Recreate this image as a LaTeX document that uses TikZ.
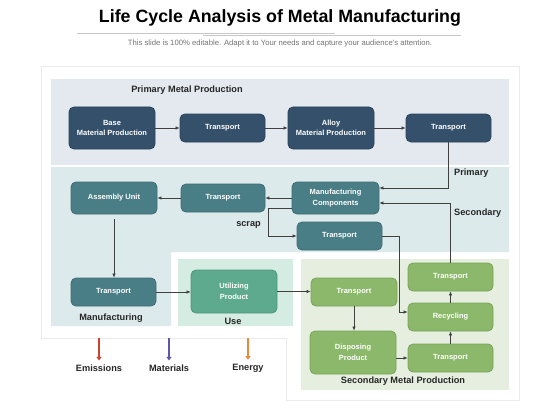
\documentclass[tikz,border=0pt]{standalone}
\usepackage{fontspec}
\setmainfont{Liberation Sans}
\usetikzlibrary{arrows.meta,calc}
\definecolor{navy}{HTML}{34506A}
\definecolor{navyb}{HTML}{2A4257}
\definecolor{teal}{HTML}{4A7E86}
\definecolor{tealb}{HTML}{3D6C73}
\definecolor{usec}{HTML}{5DAA8E}
\definecolor{useb}{HTML}{4E977C}
\definecolor{grn}{HTML}{8BB86A}
\definecolor{grnb}{HTML}{78A35A}
\definecolor{bgprim}{HTML}{E3E9EF}
\definecolor{bgmfg}{HTML}{DDEAEC}
\definecolor{bguse}{HTML}{D5ECE3}
\definecolor{bgsec}{HTML}{E6EFDF}
\definecolor{linec}{HTML}{404040}
\definecolor{emis}{HTML}{D0412E}
\definecolor{matc}{HTML}{5B57A6}
\definecolor{enec}{HTML}{E88A3C}
\begin{document}
\begin{tikzpicture}[x=1pt,y=-1pt,
  box/.style={rounded corners=5pt,draw,line width=0.8pt,text=white,align=center,
    font=\fontsize{7.5}{10.5}\selectfont\bfseries,inner sep=0pt},
  nbox/.style={box,fill=navy,draw=navyb},
  tbox/.style={box,fill=teal,draw=tealb},
  ubox/.style={box,fill=usec,draw=useb},
  gbox/.style={box,fill=grn,draw=grnb},
  arr/.style={draw=linec,line width=0.6pt,-{Latex[length=4pt,width=3.5pt]}},
  lbl/.style={font=\fontsize{9.2}{11}\selectfont\bfseries,text=black!85,inner sep=0pt},
  barr/.style={line width=2.5pt,-{Triangle[length=3.5pt,width=5pt]}}
]
\useasboundingbox (0,0) rectangle (560,420);
\fill[white] (0,0) rectangle (560,420);
% title
\node[font=\fontsize{17.8}{20}\selectfont\bfseries,inner sep=0pt] (title) at (280,18) {Life Cycle Analysis of Metal Manufacturing};
\draw[black!22,line width=0.6pt] (77,33) -- (335,33);
\draw[black!22,line width=0.6pt] (203,35) -- (461,35);
\node[font=\fontsize{7.7}{9}\selectfont,text=black!55,inner sep=0pt] (sub) at (280,44) {This slide is 100\% editable. Adapt it to Your needs and capture your audience's attention.};
% frame
\draw[black!8,fill=white,line width=1pt] (41,67) -- (519,67) -- (519,400) -- (286,400) -- (286,338) -- (41,338) -- cycle;
% regions
\fill[bgprim] (51,79) rectangle (509,165);
\fill[bgmfg] (51,167) -- (509,167) -- (509,252) -- (171,252) -- (171,326) -- (51,326) -- cycle;
\fill[bguse] (178,259) rectangle (293,326);
\fill[bgsec] (301,259) rectangle (509,390);
% nodes
\node[nbox,minimum width=86pt,minimum height=42pt] (base) at (112,128) {Base\\Material Production};
\node[nbox,minimum width=85pt,minimum height=28pt] (t1) at (222.5,128) {Transport};
\node[nbox,minimum width=86pt,minimum height=42pt] (alloy) at (331,128) {Alloy\\Material Production};
\node[nbox,minimum width=85pt,minimum height=28pt] (t2) at (448.5,128) {Transport};
\node[tbox,minimum width=86pt,minimum height=32pt] (asm) at (114,198) {Assembly Unit};
\node[tbox,minimum width=84pt,minimum height=28pt] (tm) at (223,198) {Transport};
\node[tbox,minimum width=87pt,minimum height=32pt] (mc) at (335.5,198) {Manufacturing\\Components};
\node[tbox,minimum width=85pt,minimum height=28pt] (ts) at (339.5,236) {Transport};
\node[tbox,minimum width=85pt,minimum height=28pt] (tl) at (113.5,292) {Transport};
\node[ubox,minimum width=86pt,minimum height=43pt] (up) at (234,291.5) {Utilizing\\Product};
\node[gbox,minimum width=86pt,minimum height=28pt] (ts1) at (354,292) {Transport};
\node[gbox,minimum width=86pt,minimum height=43pt] (dp) at (353,352.5) {Disposing\\Product};
\node[gbox,minimum width=85pt,minimum height=28pt] (ttr) at (450.5,277) {Transport};
\node[gbox,minimum width=85pt,minimum height=28pt] (rec) at (450.5,317) {Recycling};
\node[gbox,minimum width=85pt,minimum height=28pt] (tbr) at (450.5,358) {Transport};
% labels
\node[lbl] (lprim) at (187,90) {Primary Metal Production};
\node[lbl,anchor=west] (lp) at (454,173) {Primary};
\node[lbl,anchor=west] (ls) at (454,213) {Secondary};
\node[lbl,anchor=east] (lscrap) at (261,225) {scrap};
\node[lbl] (lmfg) at (111,318) {Manufacturing};
\node[lbl] (luse) at (233,321) {Use};
\node[lbl] (lsec) at (403,381) {Secondary Metal Production};
\node[lbl] (lem) at (99,368) {Emissions};
\node[lbl] (lmat) at (169,368) {Materials};
\node[lbl] (len) at (248,368) {Energy};
% connectors
\draw[arr] (base) -- (t1);
\draw[arr] (t1) -- (alloy);
\draw[arr] (alloy) -- (t2);
\draw[arr] (t2.south) |- ([yshift=10pt]mc.east);
\draw[arr] (ttr.north) |- ([yshift=-5pt]mc.east);
\draw[arr] (mc.west) -- (tm.east);
\draw[arr] (tm.west) -- (asm.east);
\draw[arr] ([yshift=-10pt]mc.west) -- ++(-23,0) |- (ts.west);
\draw[arr] (ts.east) -- ++(17,0) |- ([yshift=5pt]rec.west);
\draw[arr,shorten <=5pt] (asm.south) -- (asm.south |- tl.north);
\draw[arr] (tl.east) -- (tl.east -| up.west);
\draw[arr] (up.east) -- (up.east -| ts1.west);
\draw[arr] (ts1.south) -- (ts1.south |- dp.north);
\draw[arr] (dp.east |- tbr.west) -- (tbr.west);
\draw[arr] (tbr.north) -- (rec.south);
\draw[arr] (rec.north) -- (ttr.south);
% bottom arrows
\coordinate (e0) at (99,338);
\coordinate (m0) at (169,338);
\coordinate (g0) at (248,338);
\draw[barr,emis] (e0) -- ([yshift=4pt]lem.north);
\draw[barr,matc] (m0) -- ([yshift=4pt]lmat.north);
\draw[barr,enec] (g0) -- ([yshift=4pt]len.north);
\end{tikzpicture}
\end{document}
